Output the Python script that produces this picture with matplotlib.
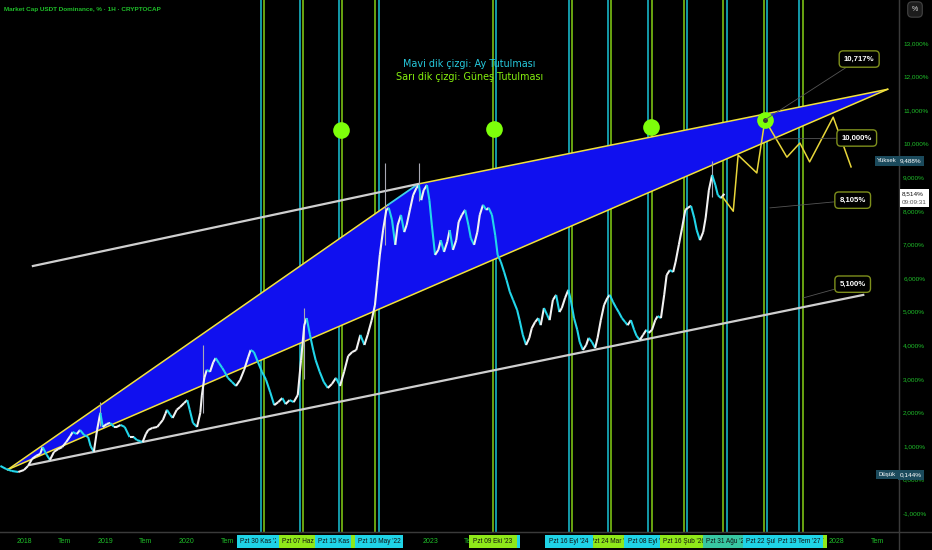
import numpy as np
import matplotlib.pyplot as plt
import matplotlib.transforms as mtransforms
from matplotlib.collections import LineCollection
from matplotlib.patches import Rectangle
from matplotlib.text import Text
from matplotlib.lines import Line2D
from matplotlib.ticker import FuncFormatter

# USDT dominansi (%), tarih ondalik yil olarak
t_price = [2017.71, 2017.78, 2017.85, 2017.93, 2018.00, 2018.05, 2018.10, 2018.15, 2018.20, 2018.23,
           2018.28, 2018.32, 2018.37, 2018.42, 2018.47, 2018.52, 2018.57, 2018.60, 2018.65, 2018.69,
           2018.74, 2018.79, 2018.82, 2018.86, 2018.90, 2018.94, 2018.97, 2019.02, 2019.06, 2019.11,
           2019.14, 2019.19, 2019.24, 2019.30, 2019.35, 2019.39, 2019.43, 2019.46, 2019.50, 2019.53,
           2019.58, 2019.64, 2019.67, 2019.71, 2019.74, 2019.76, 2019.80, 2019.83, 2019.88, 2019.92,
           2019.97, 2020.01, 2020.04, 2020.08, 2020.13, 2020.17, 2020.19, 2020.22, 2020.25, 2020.29,
           2020.33, 2020.36, 2020.40, 2020.44, 2020.47, 2020.51, 2020.56, 2020.61, 2020.66, 2020.71,
           2020.76, 2020.79, 2020.83, 2020.88, 2020.93, 2020.98, 2021.03, 2021.08, 2021.13, 2021.18,
           2021.22, 2021.27, 2021.32, 2021.37, 2021.41, 2021.45, 2021.48, 2021.52, 2021.56, 2021.59,
           2021.64, 2021.69, 2021.74, 2021.79, 2021.84, 2021.89, 2021.94, 2021.99, 2022.04, 2022.09,
           2022.14, 2022.19, 2022.23, 2022.28, 2022.32, 2022.35, 2022.38, 2022.42, 2022.46, 2022.49,
           2022.53, 2022.57, 2022.60, 2022.64, 2022.68, 2022.71, 2022.75, 2022.79, 2022.83, 2022.86,
           2022.89, 2022.92, 2022.96, 2022.99, 2023.02, 2023.06, 2023.10, 2023.13, 2023.17, 2023.21,
           2023.24, 2023.28, 2023.32, 2023.35, 2023.39, 2023.43, 2023.47, 2023.50, 2023.54, 2023.58,
           2023.61, 2023.65, 2023.69, 2023.72, 2023.76, 2023.80, 2023.83, 2023.87, 2023.91, 2023.94,
           2023.98, 2024.02, 2024.07, 2024.10, 2024.14, 2024.18, 2024.22, 2024.25, 2024.29, 2024.33,
           2024.36, 2024.40, 2024.44, 2024.47, 2024.51, 2024.55, 2024.59, 2024.62, 2024.66, 2024.70,
           2024.73, 2024.77, 2024.81, 2024.84, 2024.88, 2024.92, 2024.95, 2024.99, 2025.03, 2025.06,
           2025.10, 2025.14, 2025.18, 2025.21, 2025.25, 2025.29, 2025.32, 2025.36, 2025.40, 2025.43,
           2025.47, 2025.51, 2025.54, 2025.58, 2025.62, 2025.66, 2025.69, 2025.73, 2025.77, 2025.80,
           2025.84, 2025.88, 2025.91, 2025.95, 2025.99, 2026.02, 2026.06, 2026.10, 2026.14, 2026.17,
           2026.21, 2026.25, 2026.28, 2026.32, 2026.36, 2026.39, 2026.43, 2026.47, 2026.51, 2026.54,
           2026.58, 2026.62]
usdt_dom = [0.41, 0.32, 0.26, 0.23, 0.29, 0.41, 0.62, 0.71, 0.77, 0.97,
            0.74, 0.59, 0.83, 0.91, 0.97, 1.12, 1.30, 1.42, 1.36, 1.48,
            1.33, 1.27, 1.00, 0.83, 1.48, 1.99, 1.57, 1.66, 1.69, 1.57,
            1.57, 1.63, 1.57, 1.27, 1.27, 1.18, 1.15, 1.12, 1.36, 1.48,
            1.54, 1.57, 1.66, 1.78, 1.96, 2.08, 1.93, 1.84, 2.08, 2.16,
            2.28, 2.37, 2.08, 1.69, 1.57, 1.99, 2.52, 3.03, 3.27, 3.21,
            3.50, 3.62, 3.47, 3.33, 3.21, 3.03, 2.91, 2.79, 2.97, 3.27,
            3.65, 3.86, 3.80, 3.50, 3.21, 2.97, 2.61, 2.22, 2.31, 2.43,
            2.25, 2.37, 2.31, 2.52, 3.56, 4.60, 4.81, 4.31, 3.86, 3.56,
            3.21, 2.91, 2.73, 2.85, 3.03, 2.79, 3.21, 3.68, 3.80, 3.86,
            4.31, 4.01, 4.31, 4.75, 5.20, 5.94, 6.69, 7.43, 8.03, 8.09,
            7.73, 6.99, 7.58, 7.88, 7.37, 7.58, 8.03, 8.47, 8.68, 8.77,
            8.32, 8.62, 8.77, 8.32, 7.58, 6.69, 6.84, 7.13, 6.78, 7.08,
            7.43, 6.84, 7.13, 7.67, 7.88, 8.03, 7.58, 7.19, 6.99, 7.37,
            7.88, 8.18, 8.03, 8.09, 7.88, 7.28, 6.69, 6.48, 6.18, 5.94,
            5.59, 5.35, 5.05, 4.75, 4.31, 4.01, 4.22, 4.51, 4.69, 4.81,
            4.60, 5.11, 4.90, 4.75, 5.35, 5.50, 4.99, 5.11, 5.41, 5.65,
            5.35, 4.81, 4.46, 4.10, 3.86, 4.01, 4.22, 4.10, 3.92, 4.22,
            4.75, 5.20, 5.41, 5.50, 5.29, 5.11, 4.99, 4.81, 4.69, 4.60,
            4.75, 4.46, 4.28, 4.16, 4.31, 4.46, 4.37, 4.46, 4.75, 4.87,
            4.81, 5.50, 6.09, 6.24, 6.18, 6.48, 6.99, 7.49, 8.03, 8.09,
            8.15, 7.79, 7.43, 7.13, 7.37, 7.79, 8.62, 9.07, 8.77, 8.47,
            8.38, 8.51]

# belirgin fitiller
wick_t = [2018.94, 2020.20, 2021.45, 2022.44, 2022.86, 2026.47]
wick_lo = [1.60, 2.00, 3.00, 7.00, 8.30, 8.40]
wick_hi = [2.30, 4.00, 5.10, 9.42, 9.42, 9.49]

# tahmin (sari zigzag)
proj_t = [2026.60, 2026.73, 2026.79, 2027.02, 2027.12, 2027.39, 2027.55, 2027.67, 2027.96, 2028.18]
proj_v = [8.41, 7.99, 9.66, 9.13, 10.71, 9.60, 10.02, 9.46, 10.79, 9.31]

# mavi ucgen (ust kenar kirik, alt kenar duz)
wedge_t = [2017.80, 2022.48, 2022.85, 2028.63]
wedge_v = [0.30, 8.18, 8.80, 11.62]

# beyaz kanal cizgileri
ch_up_t = [2018.11, 2022.85]
ch_up_v = [6.36, 8.80]
ch_lo_t = [2018.075, 2028.33]
ch_lo_v = [0.44, 5.50]

# yesil daireler
circ_t = [2021.90, 2023.78, 2025.72, 2027.12]
circ_v = [10.41, 10.44, 10.50, 10.71]

# tutulmalar
ay_tut = [2020.917, 2021.398, 2021.877, 2022.370, 2023.810, 2024.708, 2025.188,
          2025.681, 2026.161, 2026.653, 2027.145, 2027.539]
gunes_tut = [2020.954, 2021.434, 2021.914, 2022.321, 2023.773, 2024.745, 2025.225,
             2025.730, 2026.124, 2026.604, 2027.108, 2027.588]

# fiyat etiketleri
ann_text = ['10,717%', '10,000%', '8,105%', '5,100%']
ann_pt = [(2027.12, 10.71), (2027.18, 10.14), (2027.18, 8.09), (2027.59, 5.41)]
ann_box = [(2028.28, 12.52), (2028.25, 10.17), (2028.20, 8.32), (2028.20, 5.82)]

# alt eksendeki tarih etiketleri (cizim sirasi)
CYAN = '#1fd3e6'
LIME = '#8fe81a'
TEAL = '#38c7a2'
date_lbl = [(2020.917, "Pzt 30 Kas '20", CYAN), (2021.398, "Pzt 24 May '21", CYAN),
            (2021.434, "Pzt 07 Haz '21", LIME), (2021.877, "Pzt 15 Kas '21", CYAN),
            (2022.321, "Pzt 25 Nis '22", LIME), (2022.370, "Pzt 16 May '22", CYAN),
            (2023.810, "Pzt 23 Eki '23", CYAN), (2023.773, "Pzt 09 Eki '23", LIME),
            (2025.225, "Pzt 24 Mar '25", LIME), (2024.708, "Pzt 16 Eyl '24", CYAN),
            (2025.681, "Pzt 08 Eyl '25", CYAN), (2026.124, "Pzt 16 Şub '26", LIME),
            (2026.653, "Pzt 31 Ağu '26", TEAL), (2027.145, "Pzt 22 Şub '27", CYAN),
            (2027.588, "Pzt 02 Ağu '27", LIME), (2027.539, "Pzt 19 Tem '27", CYAN)]

x_ticks = [2018 + 0.5 * i for i in range(22)]
x_labels = [str(int(v)) if v == int(v) else 'Tem' for v in x_ticks]
y_ticks = list(range(-1, 14))

AXG = '#1fbf2a'
LIB = 'Liberation Sans'

fig = plt.figure(figsize=(9.32, 5.5), dpi=100, facecolor='black')
ax = fig.add_axes([0, 18 / 550, 899 / 932, 532 / 550])
ax.set_facecolor('black')
ax.set_xlim(2017.705, 2028.77)
ax.set_ylim(-1.556, 14.277)

for t in ay_tut:
    ax.axvline(t, color='#17b3c6', lw=1.2, zorder=1)
for t in gunes_tut:
    ax.axvline(t, color='#7bbf14', lw=1.2, zorder=1)

# ucgen
ax.fill(wedge_t, wedge_v, color='#1010ef', zorder=2, lw=0)
ax.plot(wedge_t[:2], wedge_v[:2], color='#f2e23c', lw=1.1, zorder=3)
ax.plot(wedge_t[1:3], wedge_v[1:3], color='#3fd0e8', lw=1.3, zorder=3)
ax.plot(wedge_t[2:], wedge_v[2:], color='#f2e23c', lw=1.1, zorder=3)
ax.plot([wedge_t[0], wedge_t[-1]], [wedge_v[0], wedge_v[-1]], color='#f2e23c', lw=1.1, zorder=3)

ax.plot(ch_up_t, ch_up_v, color='#cfcfcf', lw=1.6, zorder=3)
ax.plot(ch_lo_t, ch_lo_v, color='#cfcfcf', lw=1.6, zorder=3)

# fiyat
ax.vlines(wick_t, wick_lo, wick_hi, color='#a8a8b4', lw=0.8, zorder=4)
pts = np.column_stack([t_price, usdt_dom])
segs = np.stack([pts[:-1], pts[1:]], axis=1)
cols = ['#f2f2f2' if b >= a else '#22d6ea' for a, b in zip(usdt_dom[:-1], usdt_dom[1:])]
ax.add_collection(LineCollection(segs, colors=cols, lw=1.5, zorder=5))

ax.plot(proj_t, proj_v, color='#e8d63a', lw=1.1, zorder=5)

ax.plot(circ_t, circ_v, 'o', ms=12, color='#7dff0a', mec='none', zorder=6)
ax.plot(circ_t[-1], circ_v[-1], 'o', ms=2.5, color='#333', zorder=7)

for txt, pt, bx in zip(ann_text, ann_pt, ann_box):
    ax.annotate(txt, xy=pt, xytext=bx, ha='center', va='center', color='white',
                fontsize=5.6, fontweight='bold', family=LIB, zorder=8,
                bbox=dict(boxstyle='round,pad=0.6,rounding_size=0.5', fc='black', ec='#7e8f1c', lw=1),
                arrowprops=dict(arrowstyle='-', color='#555555', lw=0.6, shrinkA=0, shrinkB=0))

ax.text(2023.48, 12.37, 'Mavi dik çizgi: Ay Tutulması', color='#26c9dd', fontsize=6.9,
        ha='center', va='center', zorder=9)
ax.text(2023.48, 11.98, 'Sarı dik çizgi: Güneş Tutulması', color='#86f00f', fontsize=6.9,
        ha='center', va='center', zorder=9)

# eksenler
for s in ['top', 'left']:
    ax.spines[s].set_visible(False)
ax.spines['right'].set_color('#3a3a3a')
ax.spines['bottom'].set_color('#3a3a3a')
ax.yaxis.tick_right()
ax.set_yticks(y_ticks)
ax.yaxis.set_major_formatter(FuncFormatter(lambda v, p: f'{v:.3f}'.replace('.', ',') + '%'))
ax.tick_params(axis='y', length=0, pad=3, labelsize=4.6, labelcolor=AXG)
ax.set_xticks(x_ticks)
ax.set_xticklabels(x_labels)
ax.tick_params(axis='x', length=0, pad=4, labelsize=5, labelcolor=AXG)
for lb in ax.get_xticklabels() + ax.get_yticklabels():
    lb.set_family(LIB)

fig.add_artist(Line2D([899 / 932, 899 / 932], [0, 1], transform=fig.transFigure, color='#3a3a3a', lw=1))
fig.add_artist(Line2D([0, 1], [18 / 550, 18 / 550], transform=fig.transFigure, color='#3a3a3a', lw=1))

fig.text(4 / 932, 1 - 9 / 550, 'Market Cap USDT Dominance, % · 1H · CRYPTOCAP', color=AXG,
         fontsize=4.6, fontweight='bold', family=LIB, va='center')
fig.text(915 / 932, 1 - 9.5 / 550, '%', color='#dddddd', fontsize=5, family=LIB, ha='center', va='center',
         bbox=dict(boxstyle='round,pad=0.6', fc='#1c1c1c', ec='#444444', lw=0.8))

# sag eksen etiketleri
tr_r = mtransforms.blended_transform_factory(fig.transFigure, ax.transData)
for name, val, yv in [('Yüksek', '9,488%', 9.488), ('Düşük', '0,144%', 0.144)]:
    fig.text(887 / 932, yv, name, transform=tr_r, color='white', fontsize=4.3, family=LIB,
             ha='center', va='center', zorder=12,
             bbox=dict(boxstyle='square,pad=0.35', fc='#1b4a5c', ec='none'))
    fig.text(911 / 932, yv, val, transform=tr_r, color='white', fontsize=4.6, family=LIB,
             ha='center', va='center', zorder=12,
             bbox=dict(boxstyle='square,pad=0.35', fc='#1b4a5c', ec='none'))
fig.add_artist(Rectangle((900 / 932, 8.11), 29 / 932, 0.54, transform=tr_r, fc='white', ec='none', zorder=12))
fig.text(902 / 932, 8.52, '8,514%', transform=tr_r, color='#111111', fontsize=4.6, family=LIB,
         va='center', zorder=13)
fig.text(902 / 932, 8.26, '09:09:31', transform=tr_r, color='#555555', fontsize=4.6, family=LIB,
         va='center', zorder=13)

# alt tarih etiketleri
tr_b = mtransforms.blended_transform_factory(ax.transData, fig.transFigure)
half = 24 / 81.25
for i, (t, txt, col) in enumerate(date_lbl):
    r = Rectangle((t - half, 2 / 550), 2 * half, 13 / 550, transform=tr_b, fc=col, ec='none', zorder=20 + 2 * i)
    fig.add_artist(r)
    tx = Text(t, 8.5 / 550, txt, transform=tr_b, ha='center', va='center', fontsize=4.7,
              color='#111111', family=LIB, zorder=21 + 2 * i)
    tx.set_clip_path(r)
    fig.add_artist(tx)

fig.savefig('out.png', dpi=100, facecolor='black')
